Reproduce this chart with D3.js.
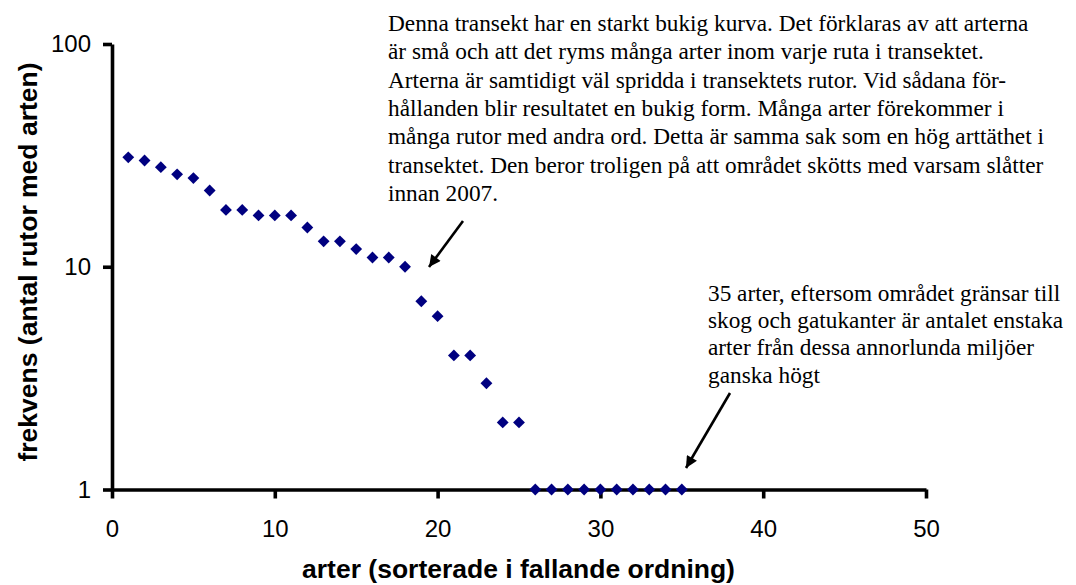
<!DOCTYPE html>
<html>
<head>
<meta charset="utf-8">
<script src="https://cdn.jsdelivr.net/npm/d3@7"></script>
<style>
    body { margin: 0; background: #fff; }
    svg { display: block; }
</style>
</head>
<body>
<div id="chart"></div>
<script>
// arter (rank) and frekvens (antal rutor med arten)
const arter = d3.range(1, 36)
const frekvens = [31, 30, 28, 26, 25, 22, 18, 18, 17, 17,
                  17, 15, 13, 13, 12, 11, 11, 10, 7, 6,
                  4, 4, 3, 2, 2, 1, 1, 1, 1, 1,
                  1, 1, 1, 1, 1]
const xTicks = [0, 10, 20, 30, 40, 50]
const yTicks = [1, 10, 100]

const note1 = [
    "Denna transekt har en starkt bukig kurva. Det förklaras av att arterna",
    "är små och att det ryms många arter inom varje ruta i transektet.",
    "Arterna är samtidigt väl spridda i transektets rutor. Vid sådana för-",
    "hållanden blir resultatet en bukig form. Många arter förekommer i",
    "många rutor med andra ord. Detta är samma sak som en hög arttäthet i",
    "transektet. Den beror troligen på att området skötts med varsam slåtter",
    "innan 2007."
]
const note2 = [
    "35 arter, eftersom området gränsar till",
    "skog och gatukanter är antalet enstaka",
    "arter från dessa annorlunda miljöer",
    "ganska högt"
]

// ----------------------------------------------------------

const width  = 1076;
const height = 585;

const svg = d3.select("#chart")
    .append("svg")
    .attr("width",  width)
    .attr("height", height)

const x = d3.scaleLinear().domain([0, 50]).range([112, 926])
const y = d3.scaleLog().domain([1, 100]).range([489.5, 44])

const data = arter.map((a, i) => ({art: a, f: frekvens[i]}))

const xAxis = d3.axisBottom(x).tickValues(xTicks).tickSize(9).tickSizeOuter(0).tickPadding(21)
const yAxis = d3.axisLeft(y).tickValues(yTicks).tickFormat(d3.format("d")).tickSize(9).tickSizeOuter(0).tickPadding(12)

const xAxisGroup = svg.append("g")
    .attr("transform", `translate(0, ${y(1)})`)
    .call(xAxis)
const yAxisGroup = svg.append("g")
    .attr("transform", `translate(${x(0)}, 0)`)
    .call(yAxis)

for (const g of [xAxisGroup, yAxisGroup]) {
    g.selectAll("path, line").attr("stroke", "#000").attr("stroke-width", 3.6)
    g.selectAll("text")
        .attr("font-family", "'Liberation Sans', Arial, sans-serif")
        .attr("font-size", 24)
        .attr("fill", "#000")
}

svg.append("text")
    .text("arter (sorterade i fallande ordning)")
    .attr("x", 518.5)
    .attr("y", 578)
    .attr("text-anchor", "middle")
    .attr("font-family", "'Liberation Sans', Arial, sans-serif")
    .attr("font-weight", "bold")
    .attr("font-size", 26.5)

svg.append("text")
    .text("frekvens (antal rutor med arten)")
    .attr("transform", `translate(37, 262) rotate(-90)`)
    .attr("text-anchor", "middle")
    .attr("font-family", "'Liberation Sans', Arial, sans-serif")
    .attr("font-weight", "bold")
    .attr("font-size", 26.5)

svg.append("g")
    .selectAll("path")
    .data(data)
    .join("path")
        .attr("d", d3.symbol(d3.symbolSquare, 70))
        .attr("transform", d => `translate(${x(d.art)}, ${y(d.f)}) rotate(45)`)
        .attr("fill", "#000080")

// annotations
const defs = svg.append("defs")
defs.append("marker")
    .attr("id", "head")
    .attr("viewBox", "0 0 10 10")
    .attr("refX", 10).attr("refY", 5)
    .attr("markerWidth", 5.5).attr("markerHeight", 4.5)
    .attr("markerUnits", "strokeWidth")
    .attr("orient", "auto")
    .append("path")
    .attr("d", "M0,0 L10,5 L0,10 z")
    .attr("fill", "#000")

const noteFont = "'Liberation Serif', 'Times New Roman', serif"

svg.append("text")
    .attr("font-family", noteFont)
    .attr("font-size", 23.3)
    .selectAll("tspan")
    .data(note1)
    .join("tspan")
        .attr("x", 388)
        .attr("y", (d, i) => 31 + i * 28.3)
        .text(d => d)

svg.append("text")
    .attr("font-family", noteFont)
    .attr("font-size", 23.3)
    .selectAll("tspan")
    .data(note2)
    .join("tspan")
        .attr("x", 708)
        .attr("y", (d, i) => 301 + i * 27.2)
        .text(d => d)

svg.append("line")
    .attr("x1", 463).attr("y1", 221)
    .attr("x2", 429).attr("y2", 267)
    .attr("stroke", "#000").attr("stroke-width", 2.6)
    .attr("marker-end", "url(#head)")

svg.append("line")
    .attr("x1", 730).attr("y1", 393)
    .attr("x2", 686).attr("y2", 468)
    .attr("stroke", "#000").attr("stroke-width", 2.6)
    .attr("marker-end", "url(#head)")
</script>
</body>
</html>
